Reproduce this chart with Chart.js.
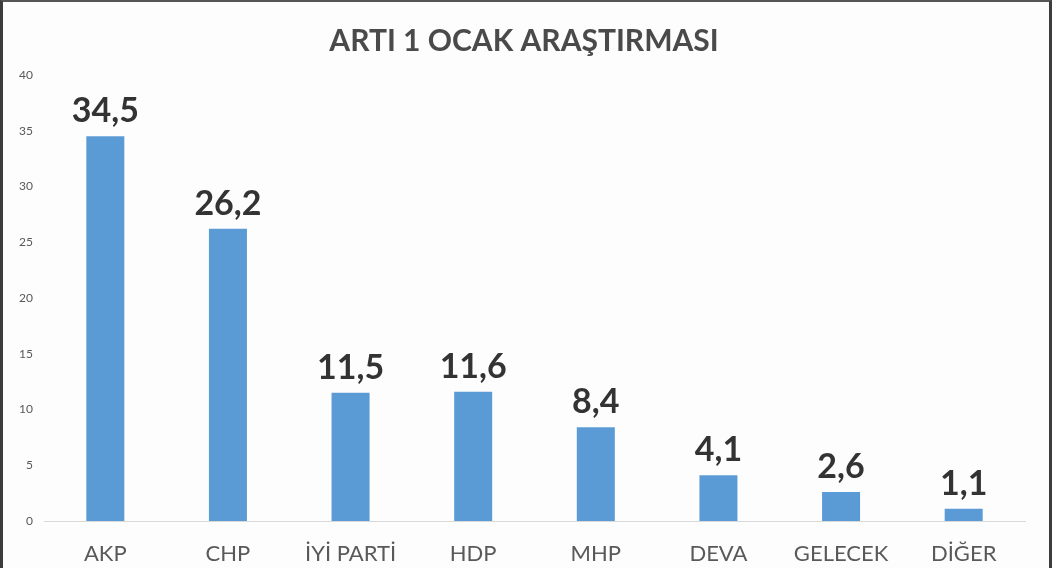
<!DOCTYPE html>
<html>
<head>
<meta charset="utf-8">
<script src="https://cdn.jsdelivr.net/npm/chart.js@4"></script>
<style>
  html, body { margin: 0; padding: 0; background: #fff; }
  #wrap { position: relative; width: 1052px; height: 568px; background: #fdfdfd; }
  #frame {
    position: absolute; left: 0; top: 0; right: 0; bottom: 0;
    border-left: 3px solid #3c3c3c; border-top: 2px solid #555;
    border-right: 3px solid #3c3c3c; pointer-events: none;
  }
</style>
</head>
<body>
<div id="wrap">
  <canvas id="chart" width="1052" height="568"></canvas>
  <div id="frame"></div>
</div>
<script>
// survey data
const chartTitle = 'ARTI 1 OCAK ARAŞTIRMASI';
const parties = ['AKP', 'CHP', 'İYİ PARTİ', 'HDP', 'MHP', 'DEVA', 'GELECEK', 'DİĞER'];
const shares  = [34.5, 26.2, 11.5, 11.6, 8.4, 4.1, 2.6, 1.1];
const shareLabels = ['34,5', '26,2', '11,5', '11,6', '8,4', '4,1', '2,6', '1,1'];
const yTicks = [0, 5, 10, 15, 20, 25, 30, 35, 40];

// title + value labels above the bars
const valueLabels = {
  id: 'valueLabels',
  afterDatasetsDraw(chart) {
    const ctx = chart.ctx;
    const meta = chart.getDatasetMeta(0);
    ctx.save();
    ctx.textAlign = 'center';
    ctx.textBaseline = 'alphabetic';

    ctx.font = 'bold 30px Lato';
    ctx.fillStyle = '#4a4a4a';
    ctx.fillText(chartTitle, 524, 51);

    ctx.font = 'bold 34px Lato';
    ctx.fillStyle = '#333333';
    meta.data.forEach((bar, i) => {
      ctx.fillText(shareLabels[i], bar.x, bar.y - 14);
    });
    ctx.restore();
  }
};

const ctx = document.getElementById('chart').getContext('2d');
new Chart(ctx, {
  type: 'bar',
  data: {
    labels: parties,
    datasets: [{
      data: shares,
      backgroundColor: '#5b9bd5',
      borderWidth: 0,
      categoryPercentage: 1,
      barPercentage: 0.31
    }]
  },
  options: {
    responsive: false,
    animation: false,
    layout: { padding: { left: 0, right: 27, top: 75, bottom: 0 } },
    plugins: {
      legend: { display: false },
      tooltip: { enabled: false },
      title: { display: false }
    },
    scales: {
      x: {
        grid: { display: false, drawTicks: false },
        border: { display: true, color: '#d9d9d9', width: 1 },
        ticks: {
          color: '#595959',
          font: { family: 'Lato', size: 22 },
          padding: 20,
          maxRotation: 0
        },
        afterFit(scale) { scale.height = 47; }
      },
      y: {
        min: 0,
        max: 40,
        afterBuildTicks(scale) { scale.ticks = yTicks.map(v => ({ value: v })); },
        grid: { display: false, drawTicks: false },
        border: { display: false },
        ticks: {
          color: '#595959',
          font: { family: 'Lato', size: 12 },
          padding: 11
        },
        afterFit(scale) { scale.width = 44; }
      }
    }
  },
  plugins: [valueLabels]
});
</script>
</body>
</html>
